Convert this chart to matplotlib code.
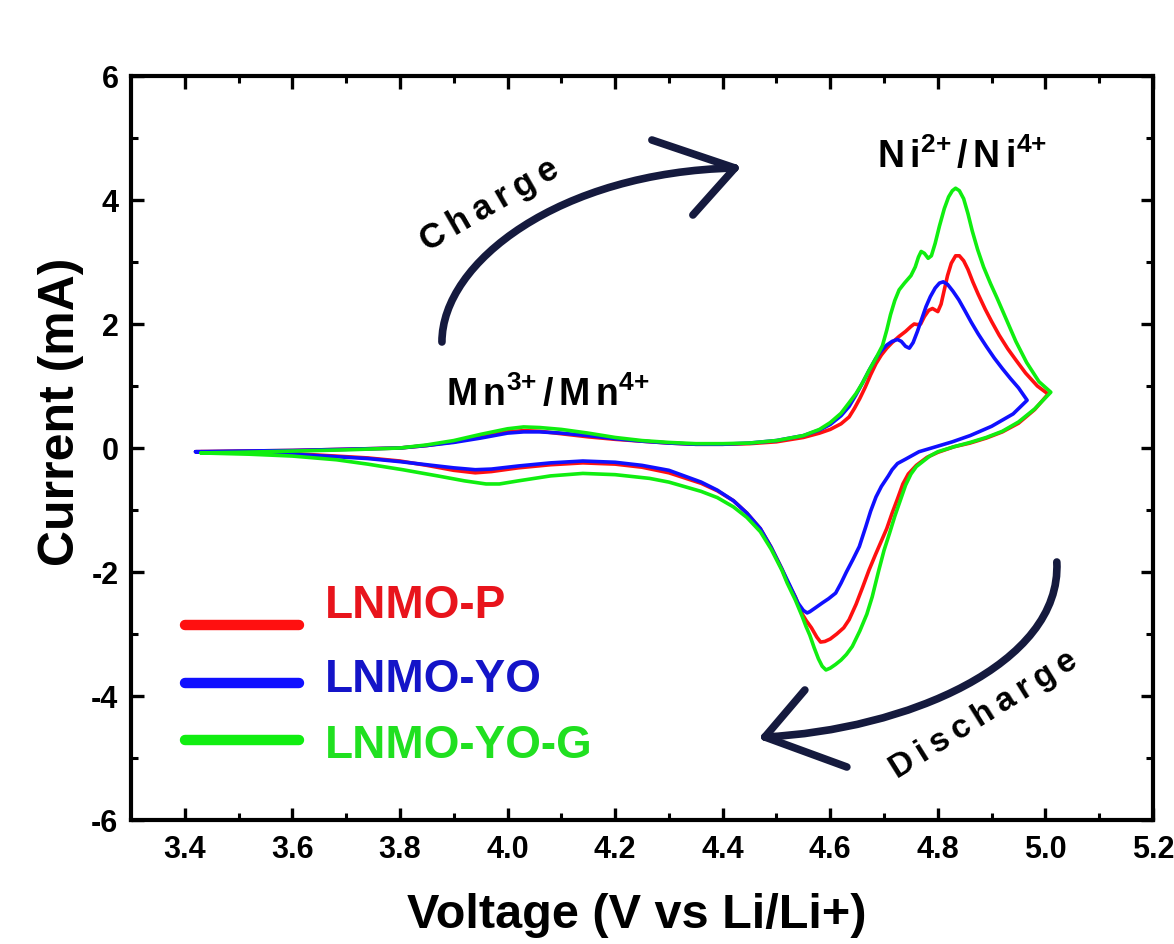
import numpy as np
import matplotlib
matplotlib.use("Agg")
import matplotlib.pyplot as plt
from matplotlib.path import Path
from matplotlib.patches import PathPatch

plt.rcParams['font.family'] = ['Liberation Sans', 'DejaVu Sans']
plt.rcParams['font.weight'] = 'bold'
plt.rcParams['axes.unicode_minus'] = False
plt.rcParams['mathtext.fontset'] = 'custom'
plt.rcParams['mathtext.rm'] = 'Liberation Sans:bold'
plt.rcParams['mathtext.bf'] = 'Liberation Sans:bold'
plt.rcParams['mathtext.it'] = 'Liberation Sans:bold'

# ---------------- data ----------------
series_names = ['LNMO-P', 'LNMO-YO', 'LNMO-YO-G']

# LNMO-P : anodic (forward) then cathodic (reverse)
p_v_an = [3.42, 3.50, 3.60, 3.70, 3.80, 3.85, 3.90, 3.95, 4.00, 4.03, 4.06, 4.10, 4.15, 4.20, 4.25,
          4.30, 4.35, 4.40, 4.45, 4.50, 4.55, 4.58, 4.60, 4.62, 4.635, 4.645, 4.655, 4.665, 4.675,
          4.685, 4.695, 4.705, 4.715, 4.728, 4.74, 4.75, 4.756, 4.762, 4.768, 4.775, 4.783, 4.79,
          4.796, 4.80, 4.806, 4.812, 4.818, 4.825, 4.833, 4.84, 4.848, 4.856, 4.865, 4.875, 4.888,
          4.90, 4.914, 4.93, 4.945, 4.963, 4.985, 5.005]
p_i_an = [-0.06, -0.05, -0.04, -0.02, 0.00, 0.04, 0.10, 0.18, 0.26, 0.28, 0.27, 0.23, 0.18, 0.14, 0.11,
          0.08, 0.06, 0.06, 0.07, 0.10, 0.17, 0.24, 0.30, 0.39, 0.50, 0.64, 0.80, 0.98, 1.18,
          1.36, 1.50, 1.61, 1.70, 1.80, 1.88, 1.96, 2.00, 1.99, 2.00, 2.12, 2.22, 2.25,
          2.22, 2.20, 2.32, 2.55, 2.78, 2.98, 3.10, 3.10, 3.02, 2.88, 2.68, 2.48, 2.24,
          2.04, 1.82, 1.60, 1.42, 1.21, 1.00, 0.87]
p_v_ca = [4.98, 4.95, 4.92, 4.89, 4.86, 4.83, 4.80, 4.78, 4.76, 4.745, 4.735, 4.725, 4.715, 4.705,
          4.695, 4.684, 4.672, 4.66, 4.648, 4.635, 4.625, 4.612, 4.60, 4.59, 4.582, 4.575, 4.565,
          4.555, 4.548, 4.535, 4.52, 4.51, 4.49, 4.47, 4.445, 4.42, 4.39, 4.36, 4.30, 4.25, 4.20,
          4.14, 4.08, 4.02, 3.97, 3.94, 3.90, 3.85, 3.80, 3.74, 3.68, 3.60, 3.52, 3.43]
p_i_ca = [0.62, 0.40, 0.26, 0.16, 0.08, 0.02, -0.07, -0.15, -0.28, -0.42, -0.58, -0.82, -1.05, -1.30,
          -1.50, -1.72, -1.97, -2.25, -2.52, -2.77, -2.90, -3.00, -3.08, -3.12, -3.13, -3.05, -2.90,
          -2.78, -2.68, -2.40, -2.15, -1.95, -1.60, -1.30, -1.05, -0.85, -0.69, -0.57, -0.40, -0.31, -0.26,
          -0.24, -0.27, -0.32, -0.38, -0.40, -0.36, -0.28, -0.21, -0.16, -0.13, -0.09, -0.07, -0.06]

# LNMO-YO
y_v_an = [3.42, 3.50, 3.60, 3.70, 3.80, 3.85, 3.90, 3.95, 4.00, 4.03, 4.06, 4.10, 4.15, 4.20, 4.25,
          4.30, 4.35, 4.40, 4.45, 4.50, 4.55, 4.58, 4.60, 4.62, 4.635, 4.648, 4.66, 4.672, 4.685,
          4.695, 4.705, 4.715, 4.725, 4.732, 4.74, 4.747, 4.754, 4.762, 4.77, 4.778, 4.786, 4.795,
          4.803, 4.81, 4.818, 4.828, 4.839, 4.85, 4.862, 4.875, 4.89, 4.905, 4.92, 4.935, 4.95, 4.966]
y_i_an = [-0.06, -0.05, -0.04, -0.02, 0.00, 0.04, 0.09, 0.16, 0.24, 0.26, 0.26, 0.24, 0.20, 0.15, 0.11,
          0.08, 0.06, 0.06, 0.08, 0.12, 0.20, 0.29, 0.38, 0.52, 0.67, 0.86, 1.05, 1.25, 1.45,
          1.57, 1.66, 1.72, 1.75, 1.72, 1.64, 1.61, 1.70, 1.88, 2.08, 2.28, 2.44, 2.58,
          2.66, 2.68, 2.64, 2.53, 2.39, 2.22, 2.03, 1.84, 1.64, 1.45, 1.28, 1.12, 0.97, 0.77]
y_v_ca = [4.94, 4.90, 4.86, 4.827, 4.80, 4.765, 4.74, 4.725, 4.715, 4.708, 4.695, 4.685, 4.675,
          4.666, 4.66, 4.654, 4.642, 4.63, 4.62, 4.61, 4.597, 4.585, 4.572, 4.562, 4.557, 4.55,
          4.54, 4.525, 4.51, 4.49, 4.47, 4.445, 4.42, 4.39, 4.36, 4.30, 4.25, 4.20, 4.14, 4.08,
          4.02, 3.97, 3.94, 3.90, 3.85, 3.80, 3.74, 3.68, 3.60, 3.52, 3.42]
y_i_ca = [0.55, 0.35, 0.20, 0.10, 0.03, -0.06, -0.18, -0.25, -0.35, -0.45, -0.62, -0.79, -1.02,
          -1.27, -1.43, -1.59, -1.80, -2.00, -2.18, -2.34, -2.43, -2.50, -2.58, -2.64, -2.66, -2.62,
          -2.50, -2.22, -1.95, -1.60, -1.30, -1.05, -0.85, -0.68, -0.55, -0.36, -0.28, -0.23, -0.21, -0.24,
          -0.29, -0.34, -0.35, -0.32, -0.27, -0.22, -0.17, -0.14, -0.10, -0.07, -0.06]

# LNMO-YO-G
g_v_an = [3.43, 3.50, 3.60, 3.70, 3.80, 3.85, 3.90, 3.95, 4.00, 4.03, 4.06, 4.10, 4.15, 4.20, 4.25,
          4.30, 4.35, 4.40, 4.45, 4.50, 4.55, 4.58, 4.60, 4.62, 4.635, 4.648, 4.66, 4.672, 4.685,
          4.697, 4.705, 4.712, 4.72, 4.728, 4.738, 4.75, 4.758, 4.764, 4.769, 4.775, 4.782, 4.788,
          4.795, 4.803, 4.812, 4.82, 4.827, 4.833, 4.84, 4.848, 4.856, 4.864, 4.874, 4.885, 4.898,
          4.91, 4.925, 4.945, 4.965, 4.988, 5.01]
g_i_an = [-0.08, -0.07, -0.05, -0.03, 0.00, 0.05, 0.12, 0.22, 0.31, 0.34, 0.33, 0.30, 0.24, 0.17, 0.12,
          0.09, 0.07, 0.07, 0.08, 0.12, 0.20, 0.30, 0.41, 0.56, 0.73, 0.88, 1.05, 1.25, 1.45,
          1.65, 1.90, 2.15, 2.38, 2.55, 2.66, 2.78, 2.92, 3.08, 3.17, 3.14, 3.06, 3.10,
          3.30, 3.58, 3.86, 4.05, 4.15, 4.19, 4.15, 4.02, 3.78, 3.50, 3.20, 2.92, 2.65,
          2.42, 2.12, 1.72, 1.38, 1.07, 0.90]
g_v_ca = [4.98, 4.95, 4.92, 4.89, 4.86, 4.83, 4.80, 4.785, 4.76, 4.75, 4.74, 4.73, 4.72, 4.71,
          4.70, 4.69, 4.678, 4.668, 4.655, 4.641, 4.63, 4.62, 4.61, 4.60, 4.592, 4.585, 4.578,
          4.57, 4.562, 4.555, 4.548, 4.535, 4.52, 4.51, 4.49, 4.47, 4.445, 4.42, 4.39, 4.36,
          4.30, 4.264, 4.20, 4.14, 4.08, 4.02, 3.985, 3.96, 3.92, 3.87, 3.805, 3.74, 3.682, 3.60,
          3.52, 3.43]
g_i_ca = [0.63, 0.42, 0.27, 0.17, 0.09, 0.02, -0.06, -0.13, -0.30, -0.42, -0.60, -0.85, -1.10, -1.38,
          -1.65, -1.98, -2.40, -2.68, -2.95, -3.20, -3.33, -3.42, -3.49, -3.55, -3.58, -3.52, -3.40,
          -3.22, -3.02, -2.88, -2.72, -2.45, -2.18, -1.97, -1.63, -1.35, -1.12, -0.95, -0.80, -0.70,
          -0.55, -0.49, -0.43, -0.41, -0.45, -0.53, -0.58, -0.58, -0.53, -0.45, -0.35, -0.26, -0.19, -0.13,
          -0.10, -0.08]

line_colors = ['#ff1010', '#1010ff', '#10ee10']
text_colors = ['#e8141c', '#1414c8', '#20e020']

x_ticks = [3.4, 3.6, 3.8, 4.0, 4.2, 4.4, 4.6, 4.8, 5.0, 5.2]
x_ticklabels = ['3.4', '3.6', '3.8', '4.0', '4.2', '4.4', '4.6', '4.8', '5.0', '5.2']
x_minor = [3.5, 3.7, 3.9, 4.1, 4.3, 4.5, 4.7, 4.9, 5.1]
y_ticks = [-6, -4, -2, 0, 2, 4, 6]
y_ticklabels = ['-6', '-4', '-2', '0', '2', '4', '6']
y_minor = [-5, -3, -1, 1, 3, 5]

# ---------------- figure ----------------
W, H = 1174, 944
fig = plt.figure(figsize=(W / 100, H / 100), dpi=100)
ax = fig.add_axes([131 / W, 1 - 820 / H, (1153 - 131) / W, (820 - 76) / H])
ax.set_xlim(3.3, 5.2)
ax.set_ylim(-6, 6)

curves = [(p_v_an + p_v_ca, p_i_an + p_i_ca),
          (y_v_an + y_v_ca, y_i_an + y_i_ca),
          (g_v_an + g_v_ca, g_i_an + g_i_ca)]
for (v, i), c in zip(curves, line_colors):
    ax.plot(v, i, color=c, lw=2.6, solid_joinstyle='round', solid_capstyle='round', zorder=3)

# axes styling
for s in ax.spines.values():
    s.set_linewidth(3.0)
ax.set_xticks(x_ticks)
ax.set_xticklabels(x_ticklabels)
ax.set_yticks(y_ticks)
ax.set_yticklabels(y_ticklabels)
ax.set_xticks(x_minor, minor=True)
ax.set_yticks(y_minor, minor=True)
ax.tick_params(which='both', direction='in', top=True, right=True)
ax.tick_params(which='major', length=9, width=2.4, labelsize=22)
ax.tick_params(axis='x', which='major', pad=11)
ax.tick_params(axis='y', which='major', pad=9)
ax.tick_params(which='minor', length=5, width=2.2)
for lab in ax.get_xticklabels() + ax.get_yticklabels():
    lab.set_fontweight('bold')

ax.set_xlabel('Voltage (V vs Li/Li+)', fontsize=35, fontweight='bold')
ax.xaxis.set_label_coords(0.495, -0.098)
ax.set_ylabel('Current (mA)', fontsize=36, fontweight='bold')
ax.yaxis.set_label_coords(-0.046, 0.548)

# annotations
ax.text(4.845, 4.70, r'$\mathbf{N\,i^{2{+}}\,/\,N\,i^{4{+}}}$', fontsize=27,
        ha='center', va='center')
ax.text(4.074, 0.86, r'$\mathbf{M\,n^{3{+}}\,/\,M\,n^{4{+}}}$', fontsize=27,
        ha='center', va='center')
ax.text(3.967, 3.92, '\u2009'.join('Charge'), fontsize=25, fontweight='bold', rotation=30,
        ha='center', va='center', rotation_mode='anchor')
ax.text(4.886, -4.31, '\u2009'.join('Discharge'), fontsize=24, fontweight='bold', rotation=32,
        ha='center', va='center', rotation_mode='anchor')

arrow_c = '#151a3e'
def px(xp, yp):
    return 3.3 + (xp - 131) / 538.0, (448 - yp) / 62.0

# Charge arrow
verts = [px(442, 342), px(442, 262), px(560, 172), px(735, 168)]
pp = PathPatch(Path(verts, [Path.MOVETO, Path.CURVE4, Path.CURVE4, Path.CURVE4]),
               fill=False, ec=arrow_c, lw=5.5, capstyle='round', zorder=4)
ax.add_patch(pp)
for a in [(652, 140), (693, 215)]:
    (x0, y0), (x1, y1) = px(*a), px(735, 168)
    ax.plot([x0, x1], [y0, y1], color=arrow_c, lw=5.5, solid_capstyle='round', zorder=4)

# Discharge arrow
verts = [px(1057, 562), px(1062, 665), px(905, 730), px(765, 737)]
pp = PathPatch(Path(verts, [Path.MOVETO, Path.CURVE4, Path.CURVE4, Path.CURVE4]),
               fill=False, ec=arrow_c, lw=5.5, capstyle='round', zorder=4)
ax.add_patch(pp)
for a in [(805, 690), (847, 767)]:
    (x0, y0), (x1, y1) = px(*a), px(765, 737)
    ax.plot([x0, x1], [y0, y1], color=arrow_c, lw=5.5, solid_capstyle='round', zorder=4)

# legend (drawn manually)
leg_line_y = [-2.85, -3.79, -4.71]
leg_text_y = [-2.55, -3.75, -4.80]
for name, lc, tc, ly, ty in zip(series_names, line_colors, text_colors, leg_line_y, leg_text_y):
    ax.plot([3.40, 3.612], [ly, ly], color=lc, lw=7.5, solid_capstyle='round', zorder=4)
    ax.text(3.66, ty, name, color=tc, fontsize=33, fontweight='bold', ha='left', va='center')

fig.savefig('out.png', dpi=100, facecolor='white')
